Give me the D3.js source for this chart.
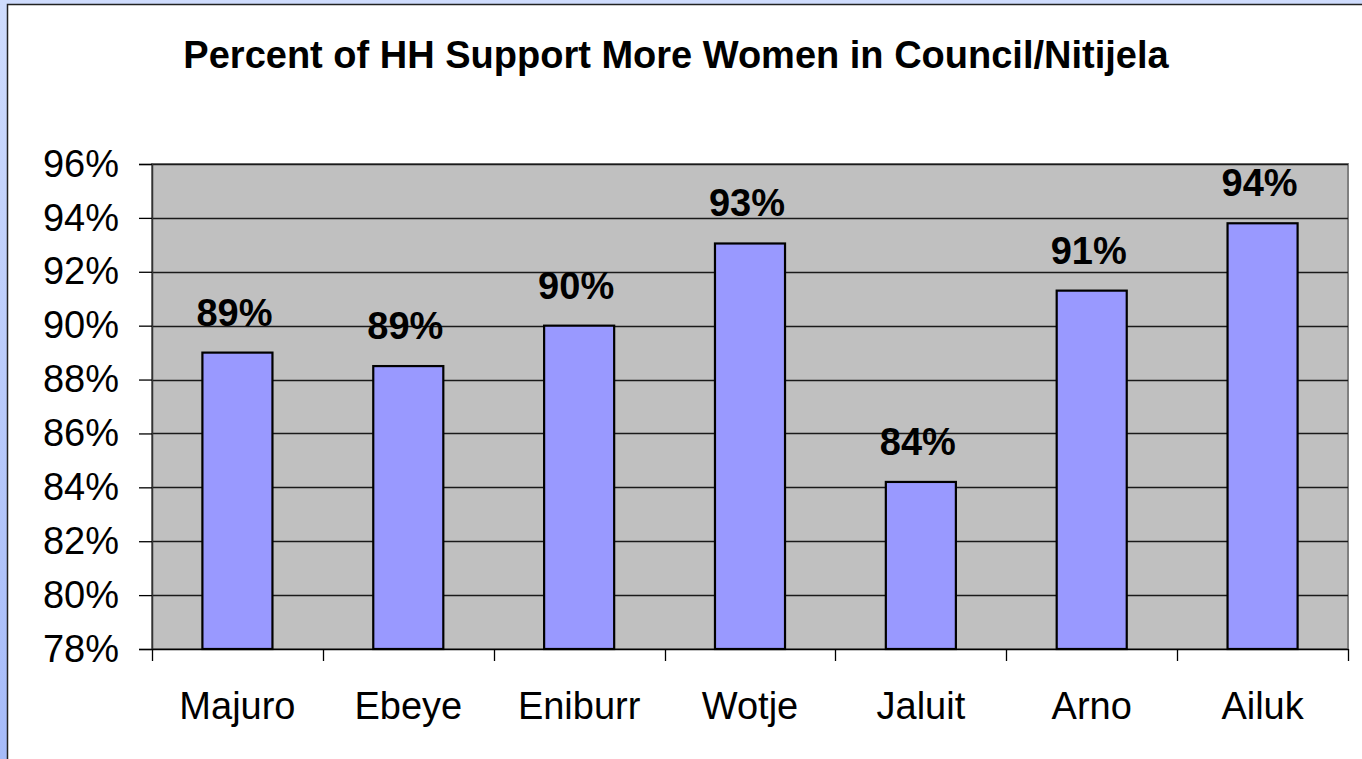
<!DOCTYPE html>
<html>
<head>
<meta charset="utf-8">
<script src="https://cdn.jsdelivr.net/npm/d3@7"></script>
<style>
  html, body { margin: 0; padding: 0; }
  body { width: 1362px; height: 759px; overflow: hidden; }
  svg { display: block; font-family: Arial, "Liberation Sans", sans-serif; }
</style>
</head>
<body>
<svg id="chart"></svg>
<script>
const WIDTH = 1362;
const HEIGHT = 759;

const TITLE = "Percent of HH Support More Women in Council/Nitijela";
const categories = ["Majuro", "Ebeye", "Eniburr", "Wotje", "Jaluit", "Arno", "Ailuk"];
const values = [89.0, 88.5, 90.0, 93.05, 84.2, 91.3, 93.8];
const yTicks = [78, 80, 82, 84, 86, 88, 90, 92, 94, 96];

const plot = { left: 152, right: 1348, top: 164, bottom: 649 };

const svg = d3.select("#chart")
    .attr("width", WIDTH)
    .attr("height", HEIGHT);

// outer bluish frame
const grad = svg.append("defs")
    .append("linearGradient")
    .attr("id", "frame-grad")
    .attr("x1", 0).attr("y1", 0).attr("x2", 0).attr("y2", 1);
grad.append("stop").attr("offset", "0%").attr("stop-color", "#cfdcfd");
grad.append("stop").attr("offset", "100%").attr("stop-color", "#a6bbf9");

svg.append("rect")
    .attr("width", WIDTH).attr("height", HEIGHT)
    .attr("fill", "url(#frame-grad)");

svg.append("rect")
    .attr("x", 7.5).attr("y", 4.5)
    .attr("width", WIDTH + 20).attr("height", HEIGHT + 20)
    .attr("fill", "white")
    .attr("stroke", "#222")
    .attr("stroke-width", 1.5);

// title
svg.append("text")
    .attr("x", 676)
    .attr("y", 68)
    .attr("text-anchor", "middle")
    .style("font-size", "38px")
    .style("font-weight", "bold")
    .text(TITLE);

const x = d3.scaleBand()
    .domain(categories)
    .range([plot.left, plot.right])
    .padding(0);

const y = d3.scaleLinear()
    .domain([78, 96])
    .range([plot.bottom, plot.top]);

// plot area
svg.append("rect")
    .attr("x", plot.left)
    .attr("y", plot.top)
    .attr("width", plot.right - plot.left)
    .attr("height", plot.bottom - plot.top)
    .attr("fill", "#c0c0c0")
    .attr("stroke", "#808080")
    .attr("stroke-width", 2);

// gridlines
svg.append("g")
    .selectAll("line")
    .data(yTicks.slice(1))
    .enter()
    .append("line")
    .attr("x1", plot.left)
    .attr("x2", plot.right)
    .attr("y1", d => Math.round(y(d)) + 0.5)
    .attr("y2", d => Math.round(y(d)) + 0.5)
    .attr("stroke", "#1a1a1a")
    .attr("stroke-width", 1.3);

// y axis
const yAxis = svg.append("g")
    .attr("transform", `translate(${plot.left},0)`)
    .call(d3.axisLeft(y)
        .tickValues(yTicks)
        .tickSize(13)
        .tickPadding(20)
        .tickFormat(d => d + "%"));
yAxis.select(".domain").attr("stroke", "#333").attr("stroke-width", 1.5);
yAxis.selectAll(".tick line").attr("stroke", "#000").attr("stroke-width", 1.3);
yAxis.selectAll(".tick text")
    .attr("fill", "#000")
    .style("font-size", "38px")
    .style("font-family", "Arial, 'Liberation Sans', sans-serif");

// bars
const barFrac = 0.41;
const bw = x.bandwidth() * barFrac;

svg.append("g")
    .selectAll("rect")
    .data(categories)
    .enter()
    .append("rect")
    .attr("x", (d) => x(d) + (x.bandwidth() - bw) / 2)
    .attr("y", (d, i) => y(values[i]))
    .attr("width", bw)
    .attr("height", (d, i) => y(78) - y(values[i]))
    .attr("fill", "#9999ff")
    .attr("stroke", "#000")
    .attr("stroke-width", 2.2);

// value labels
svg.append("g")
    .selectAll("text")
    .data(categories)
    .enter()
    .append("text")
    .attr("x", d => x(d) + x.bandwidth() / 2 - 3)
    .attr("y", (d, i) => y(values[i]) - 27)
    .attr("text-anchor", "middle")
    .style("font-size", "38px")
    .style("font-weight", "bold")
    .text((d, i) => Math.round(values[i]) + "%");

// x axis
const xAxis = svg.append("g")
    .attr("transform", `translate(0,${plot.bottom})`)
    .call(d3.axisBottom(x).tickSize(0).tickPadding(0));
xAxis.select(".domain").attr("stroke", "#000").attr("stroke-width", 1.5);
xAxis.selectAll(".tick text")
    .attr("fill", "#000")
    .attr("y", 70)
    .attr("dy", 0)
    .style("font-size", "38px")
    .style("font-family", "Arial, 'Liberation Sans', sans-serif");

// tick marks between categories
const bounds = categories.map(c => x(c)).concat([plot.right]);
svg.append("g")
    .selectAll("line")
    .data(bounds)
    .enter()
    .append("line")
    .attr("x1", d => Math.round(d) + 0.5)
    .attr("x2", d => Math.round(d) + 0.5)
    .attr("y1", plot.bottom)
    .attr("y2", plot.bottom + 12)
    .attr("stroke", "#000")
    .attr("stroke-width", 1.3);
</script>
</body>
</html>
